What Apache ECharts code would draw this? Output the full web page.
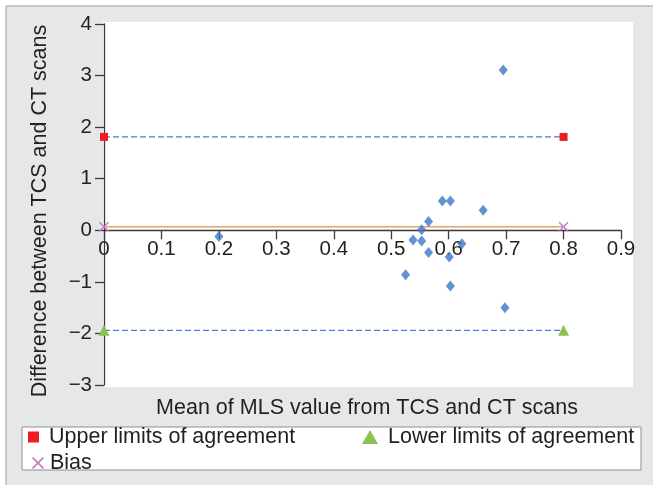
<!DOCTYPE html>
<html>
<head>
<meta charset="utf-8">
<script src="https://cdn.jsdelivr.net/npm/echarts@6/dist/echarts.min.js"></script>
<style>html,body{margin:0;padding:0;background:#fff}#c{width:653px;height:485px}</style>
</head>
<body>
<div id="c"></div>
<script>
// Data
var meanMLS = [0.20, 0.589, 0.603, 0.660, 0.565, 0.553, 0.538, 0.553, 0.565, 0.623, 0.601, 0.525, 0.603, 0.698, 0.695];
var diffMLS = [-0.12, 0.57, 0.57, 0.39, 0.17, 0.01, -0.19, -0.21, -0.43, -0.26, -0.52, -0.86, -1.08, -1.50, 3.11];
var lineEnds = [0, 0.8];
var upperLimit = 1.81;
var lowerLimit = -1.94;
var bias = 0.07;
var xTicks = [0, 0.1, 0.2, 0.3, 0.4, 0.5, 0.6, 0.7, 0.8, 0.9];
var yTicks = [-3, -2, -1, 0, 1, 2, 3, 4];
var legendNames = ['Upper limits of agreement', 'Lower limits of agreement', 'Bias'];
var xTitle = 'Mean of MLS value from TCS and CT scans';
var yTitle = 'Difference between TCS and CT scans';

var FONT = 'Liberation Sans, Arial, sans-serif';
var TXT = '#231f20';
var crossPath = 'path://M0,1L1,0L5,4L9,0L10,1L6,5L10,9L9,10L5,6L1,10L0,9L4,5Z';

var W = 653, H = 485;
var G = { left: 104, right: 32, top: 24, bottom: 100 };
var yMin = yTicks[0], yMax = yTicks[yTicks.length - 1];
var gridH = H - G.top - G.bottom;
// x axis sits on y = 0: move it up from the grid bottom by the share of the range below zero
var xAxisOffset = -gridH * (0 - yMin) / (yMax - yMin);

function pairs(xs, ys) { return xs.map(function (x, i) { return [x, ys[i]]; }); }
function flat(v) { return lineEnds.map(function (x) { return [x, v]; }); }

var chart = echarts.init(document.getElementById('c'), null, { renderer: 'canvas' });
chart.setOption({
  animation: false,
  backgroundColor: '#ffffff',
  textStyle: { fontFamily: FONT },
  grid: { left: G.left, right: G.right, top: G.top, bottom: G.bottom, containLabel: false },
  xAxis: {
    type: 'value', min: xTicks[0], max: xTicks[xTicks.length - 1], interval: 0.1,
    position: 'bottom', offset: xAxisOffset,
    axisLine: { onZero: false, lineStyle: { color: '#3a3a3a', width: 1.3 } },
    axisTick: { show: true, length: 9, lineStyle: { color: '#3a3a3a', width: 1.3 } },
    axisLabel: { color: TXT, fontSize: 20.5, fontFamily: FONT, margin: 9,
      formatter: function (v) { return v === 0 ? '0' : v.toFixed(1); } },
    splitLine: { show: false }
  },
  yAxis: {
    type: 'value', min: yMin, max: yMax, interval: 1,
    axisLine: { show: true, onZero: false, lineStyle: { color: '#3a3a3a', width: 1.3 } },
    axisTick: { show: true, length: 9, lineStyle: { color: '#3a3a3a', width: 1.3 } },
    axisLabel: { color: TXT, fontSize: 20.5, fontFamily: FONT, margin: 12,
      formatter: function (v) { return String(v).replace('-', '\u2212'); } },
    splitLine: { show: false }
  },
  legend: [
    { data: [{ name: legendNames[0], icon: 'rect' }], left: 28, top: 426, padding: 0,
      itemWidth: 11, itemHeight: 11,
      textStyle: { color: TXT, fontSize: 21.5, fontFamily: FONT, padding: [0, 0, 0, 5] } },
    { data: [{ name: legendNames[1], icon: 'triangle' }], left: 362, top: 426, padding: 0,
      itemWidth: 16, itemHeight: 14,
      textStyle: { color: TXT, fontSize: 21.5, fontFamily: FONT, padding: [0, 0, 0, 5] } },
    { data: [{ name: legendNames[2], icon: crossPath }], left: 32, top: 452, padding: 0,
      itemWidth: 12, itemHeight: 12,
      textStyle: { color: TXT, fontSize: 21.5, fontFamily: FONT, padding: [0, 0, 0, 1] } }
  ],
  graphic: [
    { type: 'rect', z: -100, silent: true, shape: { x: 6, y: 6, width: 700, height: 700 },
      style: { fill: '#e6e7e9', stroke: '#9d9d9d', lineWidth: 1 } },
    { type: 'rect', z: -90, silent: true, shape: { x: 103, y: 22, width: 530, height: 365 },
      style: { fill: '#ffffff' } },
    { type: 'rect', z: -80, silent: true, shape: { x: 22, y: 427, width: 619, height: 43 },
      style: { fill: '#ffffff', stroke: '#8f8f8f', lineWidth: 1 } },
    { type: 'text', z: 10, silent: true, x: 367, y: 408,
      style: { text: xTitle, fill: TXT, font: '21.5px ' + FONT, textAlign: 'center', textVerticalAlign: 'middle' } },
    { type: 'text', z: 10, silent: true, x: 40, y: 211, rotation: Math.PI / 2,
      style: { text: yTitle, fill: TXT, font: '21.5px ' + FONT, textAlign: 'center', textVerticalAlign: 'middle' } }
  ],
  series: [
    { name: 'Data', type: 'scatter', data: pairs(meanMLS, diffMLS), symbol: 'diamond', symbolSize: [9, 11],
      itemStyle: { color: '#3b78c4' }, z: 5 },
    { name: legendNames[0], type: 'line', data: flat(upperLimit), symbol: 'rect', symbolSize: 8,
      showSymbol: true, lineStyle: { color: '#4a7fd0', width: 1.3, type: [6, 3] },
      itemStyle: { color: '#ee1c25' }, z: 3 },
    { name: legendNames[1], type: 'line', data: flat(lowerLimit), symbol: 'triangle', symbolSize: 11,
      showSymbol: true, lineStyle: { color: '#4a7fd0', width: 1.3, type: [6, 3] },
      itemStyle: { color: '#8cc152' }, z: 3 },
    { name: legendNames[2], type: 'line', data: flat(bias), symbol: crossPath, symbolSize: 10,
      showSymbol: true, lineStyle: { color: '#e8a36a', width: 1.6 },
      itemStyle: { color: '#c77cc4' }, z: 3 }
  ]
});
</script>
</body>
</html>
